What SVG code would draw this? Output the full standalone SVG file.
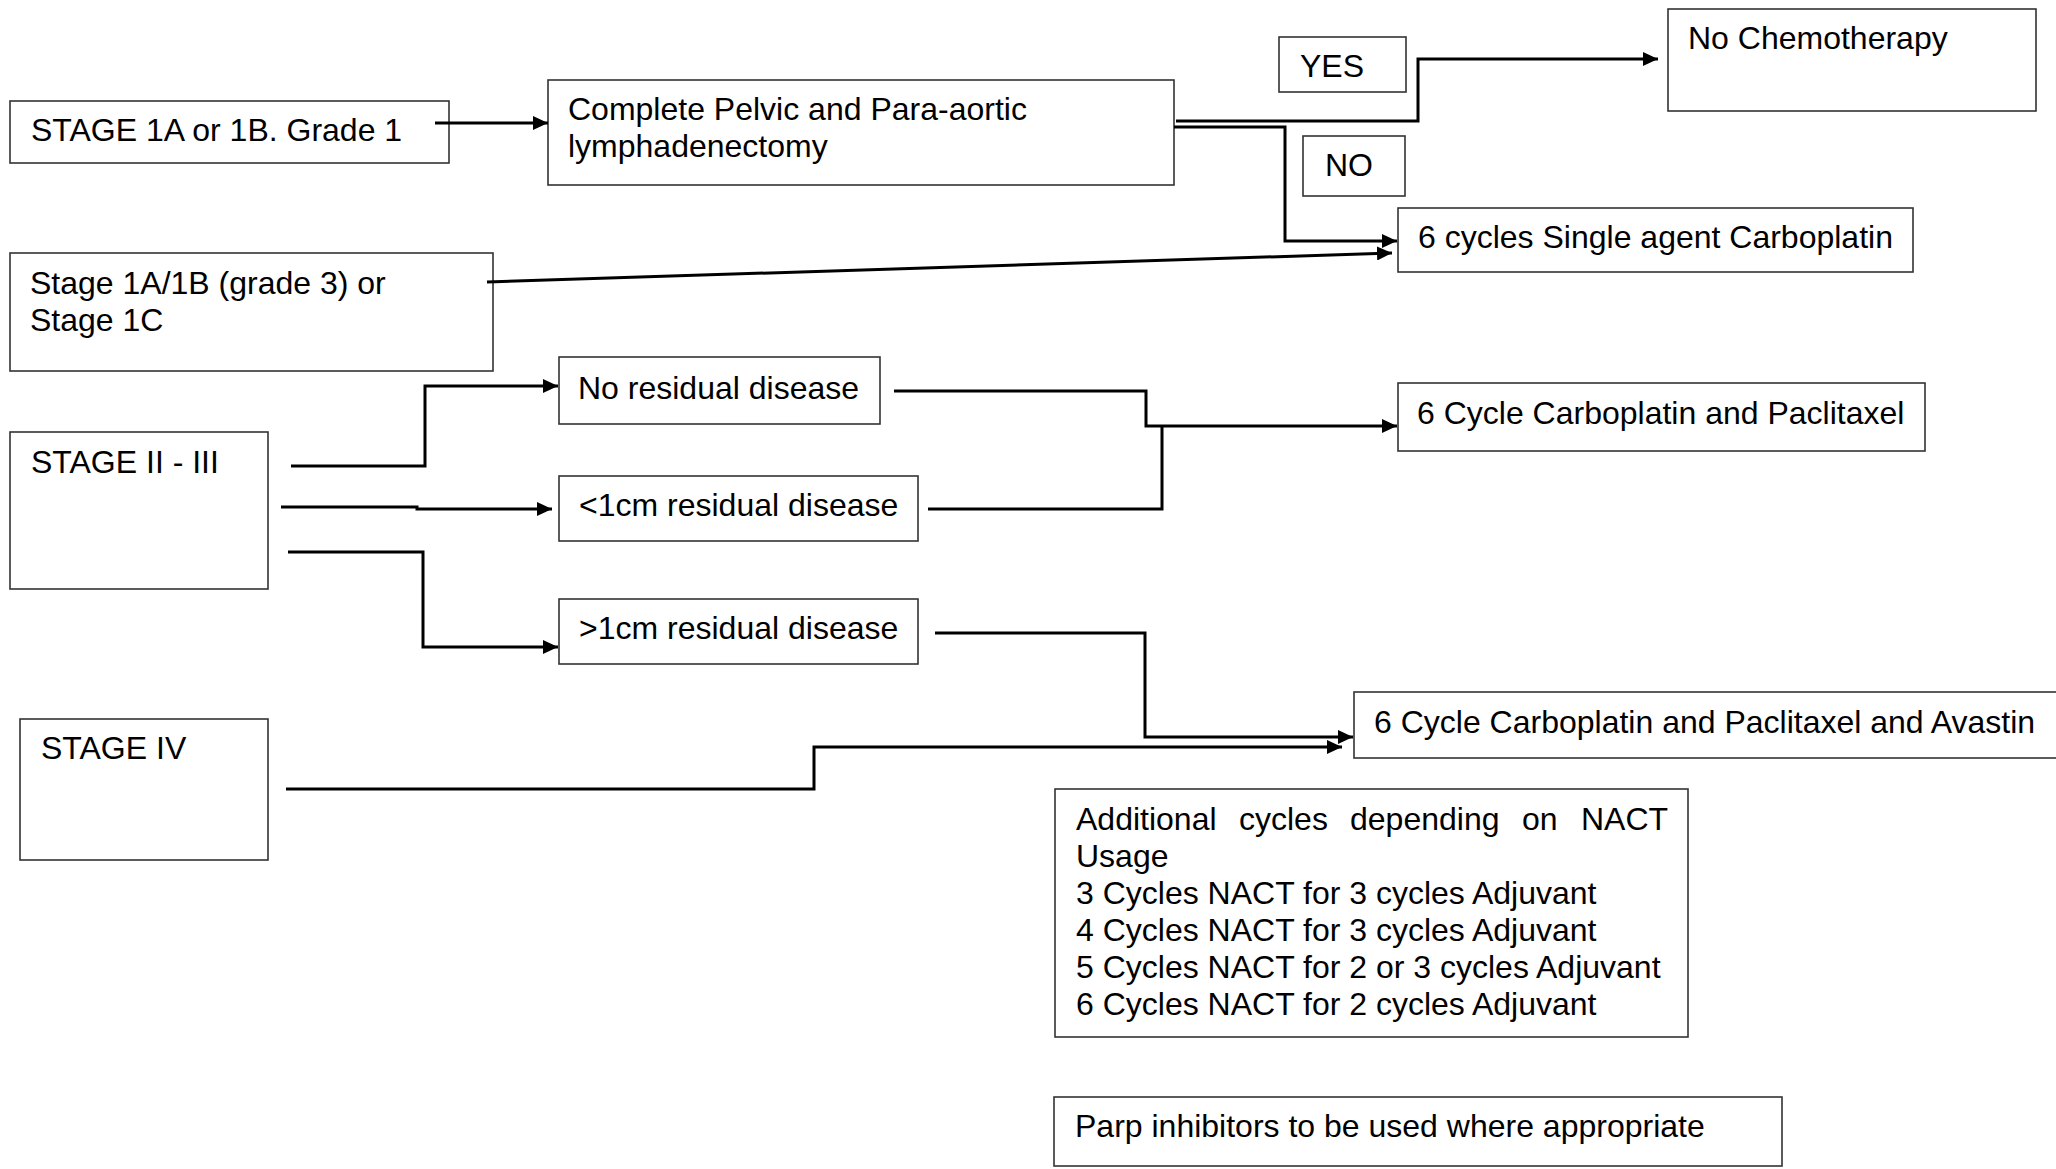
<svg xmlns="http://www.w3.org/2000/svg" width="2056" height="1169" viewBox="0 0 2056 1169">
<defs>
<style>
.box{fill:#fff;stroke:#333;stroke-width:1.6}
.t{font-family:"Liberation Sans",Arial,sans-serif;font-size:32px;fill:#000}
.c{fill:none;stroke:#000;stroke-width:3}
</style>
<marker id="arr" markerUnits="userSpaceOnUse" markerWidth="16" markerHeight="14" refX="15" refY="7" orient="auto">
<path d="M0,0 L15,7 L0,14 z" fill="#000"/>
</marker>
</defs>
<rect width="2056" height="1169" fill="#fff"/>

<g id="n-stage1a">
<rect class="box" x="10" y="101" width="439" height="62"/>
<text class="t" x="31" y="141">STAGE 1A or 1B. Grade 1</text>
</g>
<g id="n-lymph">
<rect class="box" x="548" y="80" width="626" height="105"/>
<text class="t" x="568" y="120">Complete Pelvic and Para-aortic<tspan x="568" y="157">lymphadenectomy</tspan></text>
</g>
<g id="n-yes">
<rect class="box" x="1279" y="37" width="127" height="55"/>
<text class="t" x="1300" y="77">YES</text>
</g>
<g id="n-no">
<rect class="box" x="1303" y="136" width="102" height="60"/>
<text class="t" x="1325" y="176">NO</text>
</g>
<g id="n-nochemo">
<rect class="box" x="1668" y="9" width="368" height="102"/>
<text class="t" x="1688" y="49">No Chemotherapy</text>
</g>
<g id="n-carbo">
<rect class="box" x="1398" y="208" width="515" height="64"/>
<text class="t" x="1418" y="248">6 cycles Single agent Carboplatin</text>
</g>
<g id="n-stage1c">
<rect class="box" x="10" y="253" width="483" height="118"/>
<text class="t" x="30" y="294">Stage 1A/1B (grade 3) or<tspan x="30" y="331">Stage 1C</tspan></text>
</g>
<g id="n-nores">
<rect class="box" x="559" y="357" width="321" height="67"/>
<text class="t" x="578" y="399">No residual disease</text>
</g>
<g id="n-stage23">
<rect class="box" x="10" y="432" width="258" height="157"/>
<text class="t" x="31" y="473">STAGE II - III</text>
</g>
<g id="n-lt1">
<rect class="box" x="559" y="476" width="359" height="65"/>
<text class="t" x="579" y="516">&lt;1cm residual disease</text>
</g>
<g id="n-gt1">
<rect class="box" x="559" y="599" width="359" height="65"/>
<text class="t" x="579" y="639">&gt;1cm residual disease</text>
</g>
<g id="n-cp">
<rect class="box" x="1398" y="383" width="527" height="68"/>
<text class="t" x="1417" y="424">6 Cycle Carboplatin and Paclitaxel</text>
</g>
<g id="n-stage4">
<rect class="box" x="20" y="719" width="248" height="141"/>
<text class="t" x="41" y="759">STAGE IV</text>
</g>
<g id="n-cpa">
<rect class="box" x="1354" y="692" width="720" height="66"/>
<text class="t" x="1374" y="733">6 Cycle Carboplatin and Paclitaxel and Avastin</text>
</g>
<g id="n-additional">
<rect class="box" x="1055" y="789" width="633" height="248"/>
<text class="t"><tspan x="1076" y="830">Additional</tspan><tspan x="1239" y="830">cycles</tspan><tspan x="1350" y="830">depending</tspan><tspan x="1522" y="830">on</tspan><tspan x="1581" y="830">NACT</tspan><tspan x="1076" y="867">Usage</tspan><tspan x="1076" y="904">3 Cycles NACT for 3 cycles Adjuvant</tspan><tspan x="1076" y="941">4 Cycles NACT for 3 cycles Adjuvant</tspan><tspan x="1076" y="978">5 Cycles NACT for 2 or 3 cycles Adjuvant</tspan><tspan x="1076" y="1015">6 Cycles NACT for 2 cycles Adjuvant</tspan></text>
</g>
<g id="n-parp">
<rect class="box" x="1054" y="1097" width="728" height="69"/>
<text class="t" x="1075" y="1137">Parp inhibitors to be used where appropriate</text>
</g>

<g id="connectors">
<path class="c" d="M435,123 H548" marker-end="url(#arr)"/>
<path class="c" d="M1176,121 H1418 V59 H1658" marker-end="url(#arr)"/>
<path class="c" d="M1174,127 H1285 V241 H1397" marker-end="url(#arr)"/>
<path class="c" d="M487,282 L1392,253" marker-end="url(#arr)"/>
<path class="c" d="M291,466 H425 V386 H558" marker-end="url(#arr)"/>
<path class="c" d="M281,507 H417 V509 H552" marker-end="url(#arr)"/>
<path class="c" d="M288,552 H423 V647 H558" marker-end="url(#arr)"/>
<path class="c" d="M894,391 H1146 V426 H1397" marker-end="url(#arr)"/>
<path class="c" d="M928,509 H1162 V426"/>
<path class="c" d="M935,633 H1145 V737 H1353" marker-end="url(#arr)"/>
<path class="c" d="M286,789 H814 V747 H1342" marker-end="url(#arr)"/>
</g>
</svg>
